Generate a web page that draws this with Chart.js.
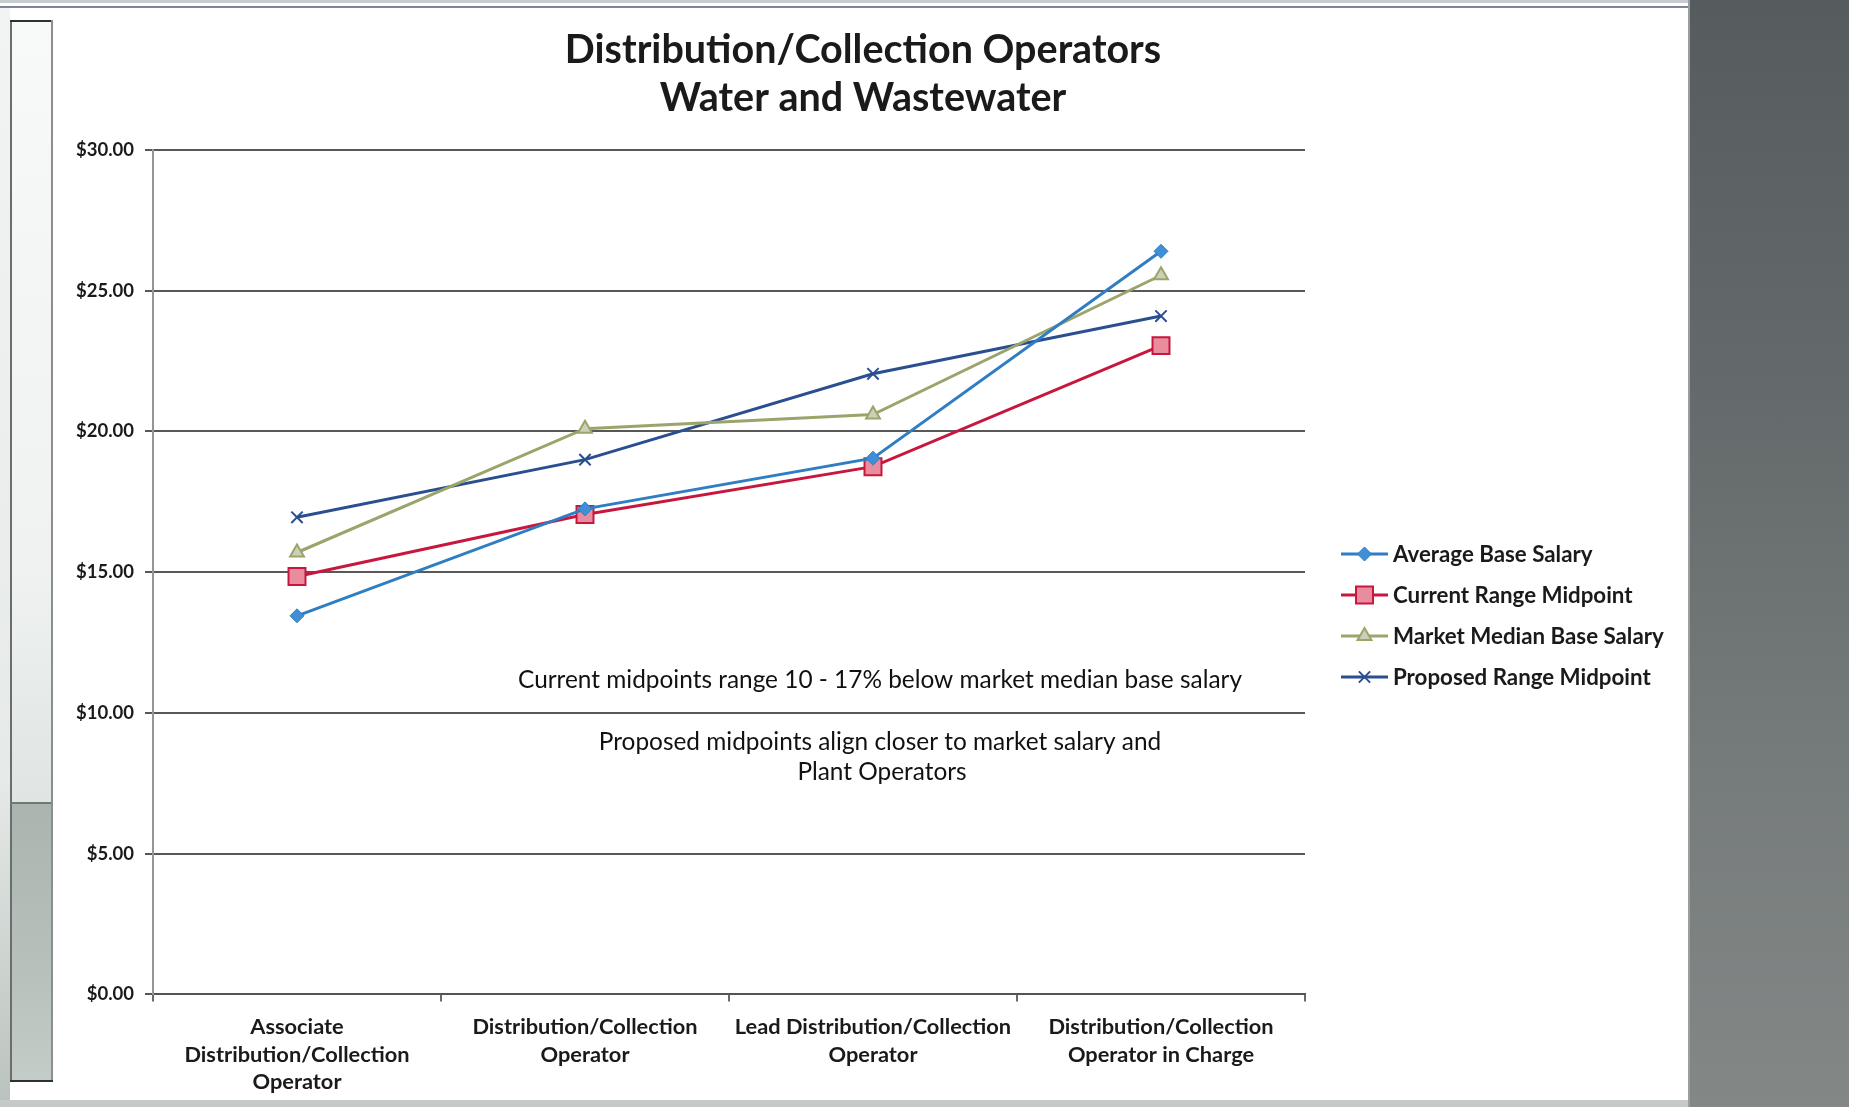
<!DOCTYPE html>
<html>
<head>
<meta charset="utf-8">
<title>Distribution/Collection Operators - Water and Wastewater</title>
<script src="https://cdn.jsdelivr.net/npm/chart.js@4.4.1/dist/chart.umd.min.js"></script>
<style>
  html, body { margin: 0; padding: 0; }
  body { width: 1849px; height: 1107px; overflow: hidden; background: #ffffff; position: relative; }
  .deco { position: absolute; }
  #chart { position: absolute; left: 38px; top: 0; }
</style>
</head>
<body>
<!-- page frame -->
<div class="deco" style="left:0;top:0;width:1688px;height:3px;background:#c8ccd1"></div>
<div class="deco" style="left:0;top:6px;width:1688px;height:2px;background:#7b8794"></div>
<div class="deco" style="left:0;top:8px;width:10px;height:1099px;background:linear-gradient(#f2f4f3,#e6eae8 70%,#b9c2bd)"></div>
<div class="deco" style="left:10px;top:20px;width:2px;height:1062px;background:#6a6e6d"></div>
<div class="deco" style="left:12px;top:22px;width:39px;height:781px;background:linear-gradient(#f8f9f9,#eff2f1 70%,#dfe5e2)"></div>
<div class="deco" style="left:12px;top:803px;width:39px;height:277px;background:linear-gradient(#a9b5ae,#b7c1bb 60%,#c3ccc6)"></div>
<div class="deco" style="left:10px;top:802px;width:43px;height:2px;background:#6f7a74"></div>
<div class="deco" style="left:10px;top:20px;width:43px;height:2px;background:#2e3130"></div>
<div class="deco" style="left:51px;top:20px;width:2px;height:1062px;background:#8a8e8d"></div>
<div class="deco" style="left:10px;top:1080px;width:43px;height:2px;background:#2e3130"></div>
<div class="deco" style="left:0;top:1100px;width:1688px;height:7px;background:#c5c9c8"></div>
<div class="deco" style="left:1688px;top:0;width:161px;height:1107px;background:linear-gradient(#565b5e,#64696b 35%,#767b7b 70%,#838887)"></div>
<div class="deco" style="left:1688px;top:0;width:2px;height:1107px;background:#9a9e9f"></div>

<canvas id="chart" width="1650" height="1107"></canvas>

<script>
// Job categories along the x axis (multi-line labels)
const categories = [
  ["Associate", "Distribution/Collection", "Operator"],
  ["Distribution/Collection", "Operator"],
  ["Lead Distribution/Collection", "Operator"],
  ["Distribution/Collection", "Operator in Charge"]
];

// Hourly rates per category
const averageBaseSalary      = [13.45, 17.25, 19.05, 26.40];
const currentRangeMidpoint   = [14.85, 17.05, 18.75, 23.05];
const marketMedianBaseSalary = [15.70, 20.10, 20.60, 25.55];
const proposedRangeMidpoint  = [16.95, 19.00, 22.05, 24.10];

const seriesNames = [
  "Average Base Salary",
  "Current Range Midpoint",
  "Market Median Base Salary",
  "Proposed Range Midpoint"
];

// Value axis
const yMin = 0;
const yMax = 30;
const yStep = 5;

const titleLines = ["Distribution/Collection Operators", "Water and Wastewater"];
const noteLines = [
  "Current midpoints range 10 - 17% below market median base salary",
  "Proposed midpoints align closer to market salary and",
  "Plant Operators"
];

const FONT = "Lato, 'Open Sans', sans-serif";
const TEXT = "#1a1a1a";

// Two-line heading centred over the whole chart panel
const heading = {
  id: 'heading',
  afterDraw(chart) {
    const ctx = chart.ctx;
    ctx.save();
    ctx.fillStyle = TEXT;
    ctx.font = "bold 39.5px " + FONT;
    ctx.textAlign = 'center';
    ctx.textBaseline = 'middle';
    ctx.fillText(titleLines[0], 825, 50);
    ctx.fillText(titleLines[1], 825, 98);
    ctx.restore();
  }
};

// Legend drawn at the right: a line sample with the marker in its middle
const sideLegend = {
  id: 'sideLegend',
  afterDraw(chart) {
    const ctx = chart.ctx;
    const x0 = 1303, x1 = 1350, textX = 1355;
    chart.data.datasets.forEach((ds, i) => {
      const y = 554 + i * 41;
      ctx.save();
      ctx.strokeStyle = ds.borderColor;
      ctx.lineWidth = ds.borderWidth;
      ctx.beginPath();
      ctx.moveTo(x0, y);
      ctx.lineTo(x1, y);
      ctx.stroke();
      ctx.fillStyle = ds.pointBackgroundColor;
      ctx.strokeStyle = ds.pointBorderColor;
      ctx.lineWidth = ds.pointBorderWidth;
      Chart.helpers.drawPoint(ctx, {
        pointStyle: ds.pointStyle,
        rotation: 0,
        radius: ds.pointRadius,
        borderWidth: ds.pointBorderWidth
      }, (x0 + x1) / 2, y);
      ctx.fillStyle = TEXT;
      ctx.font = "bold 22.3px " + FONT;
      ctx.textAlign = 'left';
      ctx.textBaseline = 'middle';
      ctx.fillText(ds.label, textX, y + 1);
      ctx.restore();
    });
  }
};

// Commentary text inside the plot
const notes = {
  id: 'notes',
  afterDraw(chart) {
    const ctx = chart.ctx;
    ctx.save();
    ctx.fillStyle = '#111111';
    ctx.font = "24.4px " + FONT;
    ctx.textAlign = 'center';
    ctx.textBaseline = 'middle';
    ctx.fillText(noteLines[0], 842, 680);
    ctx.fillText(noteLines[1], 842, 742);
    ctx.fillText(noteLines[2], 844, 772);
    ctx.restore();
  }
};

function lineSeries(label, data, color, style, radius, fill, border, bw) {
  return {
    label: label,
    data: data,
    borderColor: color,
    borderWidth: 3,
    tension: 0,
    fill: false,
    pointStyle: style,
    pointRadius: radius,
    pointHoverRadius: radius,
    pointBackgroundColor: fill,
    pointBorderColor: border,
    pointBorderWidth: bw
  };
}

new Chart(document.getElementById('chart'), {
  type: 'line',
  data: {
    labels: categories,
    datasets: [
      lineSeries(seriesNames[0], averageBaseSalary, '#2f7dc2', 'rectRot', 7, '#3f8fd6', '#2f7dc2', 1),
      lineSeries(seriesNames[1], currentRangeMidpoint, '#c8173f', 'rect', 12, '#e98c9e', '#c8173f', 2),
      lineSeries(seriesNames[2], marketMedianBaseSalary, '#9ba56b', 'triangle', 8, '#cdd0b8', '#9ba56b', 2),
      lineSeries(seriesNames[3], proposedRangeMidpoint, '#2a4f91', 'crossRot', 8, '#2a4f91', '#2a4f91', 2)
    ]
  },
  options: {
    responsive: false,
    devicePixelRatio: 1,
    animation: false,
    events: [],
    layout: { padding: { left: 0, top: 150, right: 383, bottom: 0 } },
    plugins: {
      legend: { display: false },
      tooltip: { enabled: false },
      title: { display: false }
    },
    scales: {
      x: {
        type: 'category',
        offset: true,
        afterFit(scale) { scale.height = 112.6; },
        grid: {
          offset: true,
          drawOnChartArea: false,
          drawTicks: true,
          tickLength: 7,
          color: '#6a6a6a',
          lineWidth: 2
        },
        border: { display: true, color: '#555555', width: 2 },
        ticks: {
          color: TEXT,
          font: { family: FONT, size: 21.8, weight: 'bold', lineHeight: 1.26 },
          padding: 12,
          maxRotation: 0,
          autoSkip: false
        }
      },
      y: {
        min: yMin,
        max: yMax,
        afterFit(scale) { scale.width = 115; },
        grid: {
          color: '#585858',
          lineWidth: 2,
          tickLength: 8,
          drawTicks: true
        },
        border: { display: true, color: '#959595', width: 2 },
        ticks: {
          stepSize: yStep,
          color: TEXT,
          padding: 11,
          font: { family: FONT, size: 18.5, weight: 'bold' },
          callback: (v) => '$' + Number(v).toFixed(2)
        }
      }
    }
  },
  plugins: [heading, sideLegend, notes]
});
</script>
</body>
</html>
